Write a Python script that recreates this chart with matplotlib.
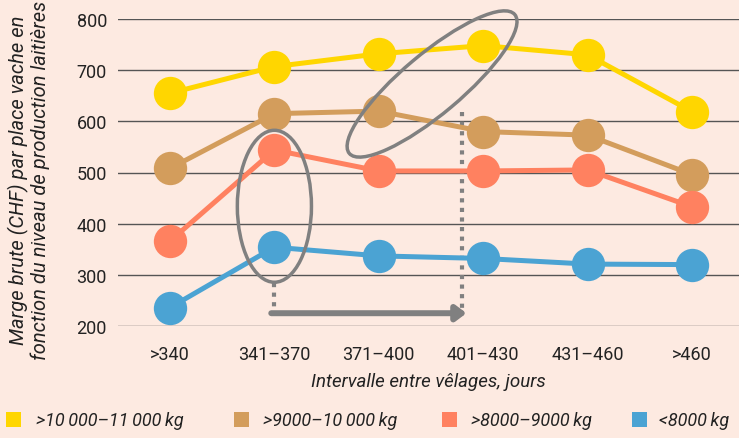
#!/usr/bin/env python3
"""Marge brute par place vache selon l'intervalle entre vêlages."""

import matplotlib
matplotlib.use("Agg")
import matplotlib.pyplot as plt
from matplotlib.patches import Ellipse, Rectangle
from matplotlib.transforms import IdentityTransform

plt.rcParams["font.family"] = ["Roboto", "DejaVu Sans"]

CATEGORIES = [">340", "341\u2013370", "371\u2013400", "401\u2013430", "431\u2013460", ">460"]
SERIES_LABELS = [
    ">10\u2009000\u201311\u2009000\u2009kg",
    ">9000\u201310\u2009000\u2009kg",
    ">8000\u20139000\u2009kg",
    "<8000\u2009kg",
]
SERIES_VALUES = [
    [655, 707, 732, 748, 730, 619],
    [508, 615, 620, 580, 573, 496],
    [366, 544, 503, 503, 505, 433],
    [236, 354, 337, 332, 321, 320],
]
COLORS = ["#FFD600", "#D39D5C", "#FF8160", "#4BA3D3"]
Y_TICKS = [200, 300, 400, 500, 600, 700, 800]

BG = "#FDEAE1"
GREY = "#808080"

W, H = 739, 439
fig = plt.figure(figsize=(W / 100, H / 100), dpi=100, facecolor=BG)
ax = fig.add_axes([118 / W, 1 - 327 / H, 621 / W, 307 / H])
ax.set_facecolor(BG)

x = list(range(len(CATEGORIES)))
ax.set_xlim(-0.498, 5.45)
ax.set_ylim(200, 800)

for vals, col in zip(SERIES_VALUES, COLORS):
    ax.plot(x, vals, color=col, lw=3.6, marker="o", ms=24, mec="none",
            solid_capstyle="round", clip_on=False, zorder=3)

ax.set_yticks(Y_TICKS)
ax.set_xticks(x)
ax.set_xticklabels(CATEGORIES)
ax.tick_params(length=0, labelsize=13, colors="#222222")
ax.tick_params(axis="x", pad=14)
ax.tick_params(axis="y", pad=8)
ax.grid(axis="y", color="#555555", lw=1.0)
ax.set_axisbelow(True)
for s in ax.spines.values():
    s.set_visible(False)

ax.set_xlabel("Intervalle entre vêlages, jours", fontsize=13.5, style="italic",
              color="#222222", labelpad=6)

# annotations: ellipses, dotted guides, arrow
ax.add_patch(Ellipse((1, 434), 0.71, 297, fill=False, ec=GREY, lw=2.5,
                     zorder=4, clip_on=False))
cx, cy = ax.transData.transform((2.51, 673))
ax.add_patch(Ellipse((cx, cy), 216, 60, angle=40, fill=False, ec=GREY, lw=2.5,
                     transform=IdentityTransform(), zorder=4, clip_on=False))

dot = dict(color=GREY, lw=3.0, ls=(0, (1, 1.3)), dash_capstyle="butt",
           zorder=2, clip_on=False)
ax.plot([1, 1], [284, 228], **dot)
ax.plot([2.80, 2.80], [618, 232], **dot)
ax.annotate("", xy=(2.84, 225), xytext=(0.97, 225),
            arrowprops=dict(arrowstyle="-|>,head_length=0.6,head_width=0.45",
                            lw=4.3, color=GREY, shrinkA=0, shrinkB=0),
            annotation_clip=False, zorder=2)

fig.text(29 / W, 1 - 180 / H,
         "Marge brute (CHF) par place vache en\nfonction du niveau de production laitières",
         rotation=90, ha="center", va="center", fontsize=14.5, style="italic",
         color="#222222", linespacing=1.15)

# legend
sq_x = [6, 234, 442, 632]
txt_x = [36, 263, 471, 659]
for sx, tx, lab, col in zip(sq_x, txt_x, SERIES_LABELS, COLORS):
    fig.add_artist(Rectangle((sx / W, 1 - 428 / H), 15 / W, 15 / H,
                             transform=fig.transFigure, color=col, lw=0))
    fig.text(tx / W, 1 - 421 / H, lab, ha="left", va="center", fontsize=13,
             style="italic", color="#222222")

fig.savefig("out.png", dpi=100, facecolor=BG)
